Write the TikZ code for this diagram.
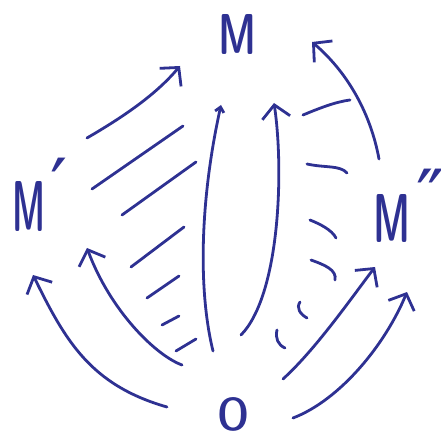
\documentclass[tikz,border=0pt]{standalone}
\usepackage{fontspec}
\usepackage{tikz}
\usetikzlibrary{arrows.meta,calc}
\newfontfamily\primefont{DejaVu Sans}
\definecolor{ink}{HTML}{2E3192}
\newcommand{\hp}[1]{\makebox[16pt][l]{\raisebox{18pt}{\primefont\fontsize{76}{76}\selectfont #1}}}
\tikzset{
  Lbl/.style={font=\sffamily\fontseries{sbc}\selectfont,
              inner sep=0pt, text=ink},
  Harr/.style={-{Straight Barb[length=13pt,width=28pt]}, draw=ink,
               line width=2.8pt, line cap=round},
  Hatch/.style={draw=ink, line width=2.8pt, line cap=round}
}

\begin{document}
\begin{tikzpicture}[x=1pt, y=-1pt]
  \useasboundingbox (0,0) rectangle (441,435);

  % objects
  \node[Lbl, anchor=base west] (M) at (218,55) {\resizebox{38pt}{40pt}{M}};
  \node[Lbl, anchor=base west] (Mp) at (12,232)
    {\resizebox{33pt}{50pt}{M}\hspace{5pt}\hp{′}};
  \node[Lbl, anchor=base west] (Mpp) at (373,243)
    {\resizebox{37pt}{48pt}{M}\hspace{6pt}\hp{″}};
  \node[Lbl, anchor=base west] (O) at (217,430) {\resizebox{32pt}{33pt}{O}};

  % arrows
  \draw[Harr] ($(Mp.base west)+(75,-94)$) .. controls (130,113) and (158,92)
    .. ($(M.base west)+(-38,11)$);
  \draw[Harr] ($(O.base west)+(-50,-23)$) .. controls (90,385) and (65,340)
    .. ($(Mp.base west)+(21,43)$);
  \draw[Harr] ($(O.base west)+(-35,-65)$) .. controls (155,355) and (110,310)
    .. ($(Mp.base west)+(75,16)$);
  \draw[Harr, -{Straight Barb[length=5pt,width=9pt]}]
    ($(O.base west)+(-4,-79)$) .. controls (198,290) and (200,200)
    .. ($(M.base west)+(3,50)$);
  \draw[Harr] ($(O.base west)+(24,-95)$) .. controls (280,295) and (284,170)
    .. ($(M.base west)+(56,48)$);
  \draw[Harr] ($(O.base west)+(66,-51)$) .. controls (315,350) and (350,300)
    .. ($(Mpp.base west)+(2,24)$);
  \draw[Harr] ($(O.base west)+(76,-12)$) .. controls (340,400) and (385,345)
    .. ($(Mpp.base west)+(34,49)$);
  \draw[Harr] ($(Mpp.base west)+(6,-84)$) .. controls (370,110) and (345,70)
    .. ($(M.base west)+(94,-13)$);

  % hatching, left
  \draw[Hatch] (92,189) -- (183,126);
  \draw[Hatch] (122,215) -- (196,162);
  \draw[Hatch] (131,267) -- (184,227);
  \draw[Hatch] (147,298) -- (179,276);
  \draw[Hatch] (162,325) -- (179,316);
  \draw[Hatch] (176,351) -- (196,339);

  % hatching, right
  \draw[Hatch] (303,115) .. controls (320,108) and (335,102) .. (350,100);
  \draw[Hatch] (307,164) .. controls (325,168) and (340,165) .. (347,173);
  \draw[Hatch] (310,220) .. controls (320,224) and (332,230) .. (336,238);
  \draw[Hatch] (311,260) .. controls (325,265) and (337,270) .. (335,280);
  \draw[Hatch] (300,302) .. controls (296,308) and (300,314) .. (307,318);
  \draw[Hatch] (277,330) .. controls (275,338) and (278,345) .. (285,348);
\end{tikzpicture}
\end{document}
